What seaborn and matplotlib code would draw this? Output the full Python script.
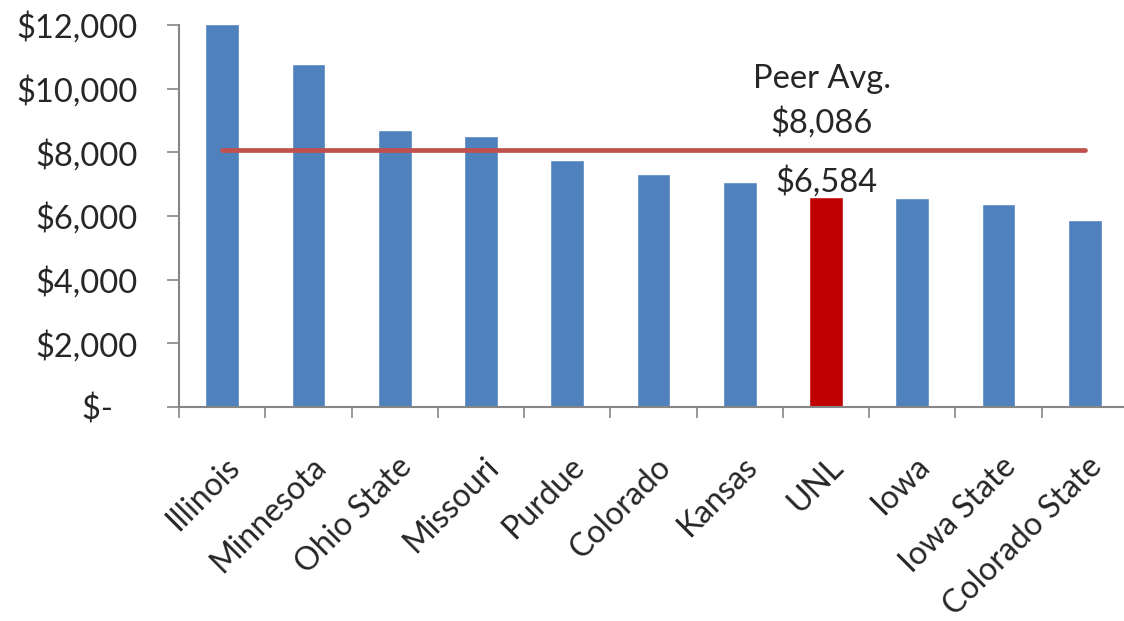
import matplotlib
matplotlib.use('Agg')
import matplotlib.pyplot as plt
import matplotlib.ticker as mticker
import matplotlib.transforms as mtrans
import numpy as np
import pandas as pd
import seaborn as sns

# Data
schools = ['Illinois', 'Minnesota', 'Ohio State', 'Missouri', 'Purdue', 'Colorado',
           'Kansas', 'UNL', 'Iowa', 'Iowa State', 'Colorado State']
cost = [12030, 10770, 8690, 8500, 7750, 7310, 7060, 6584, 6550, 6370, 5870]
peer_avg = 8086
highlight = 'UNL'

blue = '#4F81BD'
red = '#C00000'
line_red = '#C0504D'
axis_gray = '#868686'

sns.set_theme(style='white')
plt.rcParams['font.family'] = ['Lato', 'DejaVu Sans']

df = pd.DataFrame({'school': schools, 'cost': cost})
palette = {s: (red if s == highlight else blue) for s in schools}

fig = plt.figure(figsize=(11.24, 6.21), dpi=100)
ax = fig.add_axes([179 / 1124, 1 - 407 / 621, 949 / 1124, 382 / 621])

sns.barplot(data=df, x='school', y='cost', hue='school', palette=palette,
            width=0.39, legend=False, saturation=1, ax=ax)
for p in ax.patches:
    p.set_clip_on(False)

# peer average line
ax.plot([0, len(schools) - 1], [peer_avg, peer_avg], color=line_red, lw=3.4,
        solid_capstyle='round', zorder=5)

# annotations
fs = 23.5
ax.annotate('Peer Avg.', xy=(6.95, peer_avg), xytext=(0, 62), textcoords='offset pixels',
            ha='center', va='baseline', fontsize=fs)
ax.annotate(f'${peer_avg:,}', xy=(6.95, peer_avg), xytext=(0, 17), textcoords='offset pixels',
            ha='center', va='baseline', fontsize=fs)
hi = schools.index(highlight)
ax.annotate(f'${cost[hi]:,}', xy=(hi, cost[hi]), xytext=(0, 6), textcoords='offset pixels',
            ha='center', va='baseline', fontsize=fs)

# axes styling
ax.set_xlim(-0.5, len(schools) - 0.5)
ax.set_ylim(0, 12000)
ax.set_yticks(np.arange(0, 12001, 2000))
ax.yaxis.set_major_formatter(mticker.FuncFormatter(
    lambda v, _: '$-   ' if v == 0 else f'${int(v):,}'))
ax.tick_params(axis='y', which='major', direction='out', length=8.5, width=1.2,
               color=axis_gray, pad=21, labelsize=fs, left=True)

ax.set_xticks(range(len(schools)))
ax.set_xticklabels(schools, rotation=45, ha='right', rotation_mode='anchor')
ax.set_xticks(np.arange(-0.5, len(schools), 1), minor=True)
ax.tick_params(axis='x', which='major', length=0, pad=32, labelsize=23)
ax.tick_params(axis='x', which='minor', direction='out', length=8, width=1.2,
               color=axis_gray, bottom=True)
shift = mtrans.ScaledTranslation(2 / 100, 0, fig.dpi_scale_trans)
for lab in ax.get_xticklabels():
    lab.set_transform(lab.get_transform() + shift)

ax.set_xlabel('')
ax.set_ylabel('')
for side in ['top', 'right']:
    ax.spines[side].set_visible(False)
for side in ['left', 'bottom']:
    ax.spines[side].set_color(axis_gray)
    ax.spines[side].set_linewidth(1.5)

fig.savefig('out.png', dpi=100)
